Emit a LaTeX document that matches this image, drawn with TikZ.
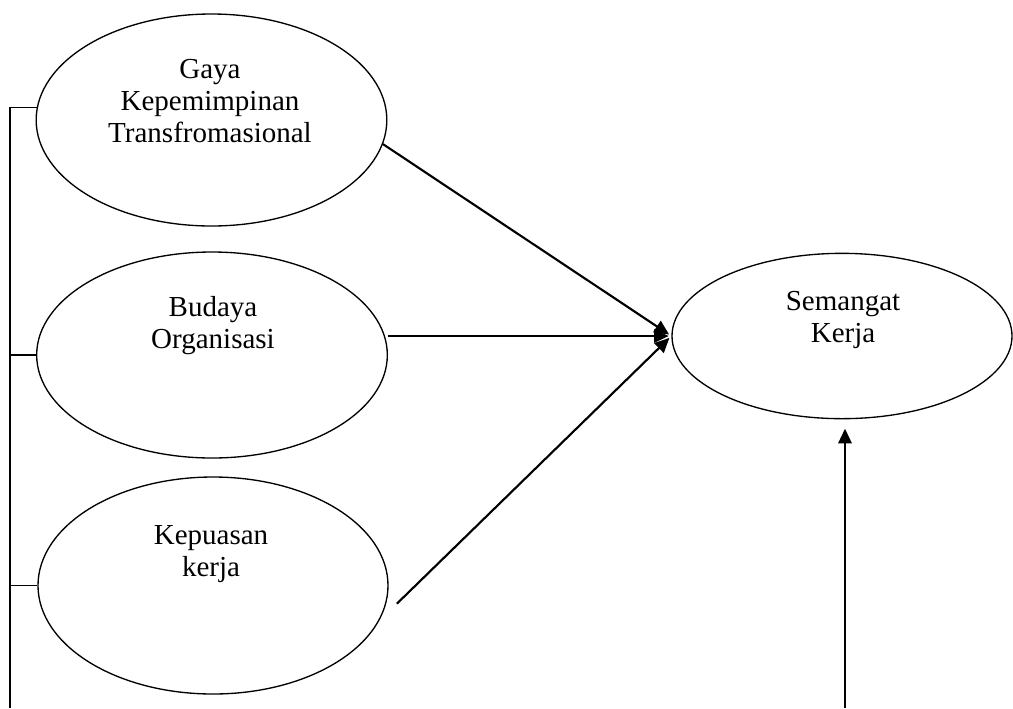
\documentclass[tikz,border=0pt]{standalone}
\usepackage{fontspec}
\setmainfont{Liberation Serif}
\usetikzlibrary{shapes.geometric,arrows.meta}
\begin{document}
\begin{tikzpicture}[x=0.75pt,y=-0.75pt,
    var/.style={draw,ellipse,line width=1pt,inner sep=0pt},
    lbl/.style={anchor=north,inner sep=0pt,align=center,
      font=\fontsize{21.75}{24}\selectfont},
    link/.style={line width=1.6pt,-{Triangle[length=11pt,width=10pt]}}]
  \useasboundingbox (0,0) rectangle (1013,708);
  \draw
    (211.5,120) node[var,minimum width=263pt,minimum height=159pt] (gaya){}
    (212,355) node[var,minimum width=263pt,minimum height=154.5pt] (budaya){}
    (213,585.5) node[var,minimum width=262.5pt,minimum height=162.75pt] (kepuasan){}
    (842,336) node[var,minimum width=255pt,minimum height=124pt] (semangat){};
  \node[lbl] (gayaTxt) at (210,56) {\strut Gaya\\Kepemimpinan\\Transfromasional};
  \node[lbl] (budayaTxt) at (213,294) {\strut Budaya\\Organisasi};
  \node[lbl] (kepuasanTxt) at (211,522) {\strut Kepuasan\\kerja};
  \node[lbl] (semangatTxt) at (843,288) {\strut Semangat\\Kerja};
  \coordinate (rail) at (10,708);
  \coordinate (foot) at (845,708);
  \begin{scope}[line width=1pt]
    \draw (gaya.176) -| (rail);
    \draw (budaya.west) -- (budaya.west -| rail);
    \draw (kepuasan.west) -- (kepuasan.west -| rail);
  \end{scope}
  \begin{scope}[link,shorten >=2pt]
    \draw (gaya.-8) to (semangat.west);
    \draw (budaya.east |- semangat.west) to (semangat.west);
    \draw ([xshift=8pt]kepuasan.-6) to (semangat.west);
  \end{scope}
  \draw[link,shorten >=7pt] (foot) -- (foot |- semangat.south);
\end{tikzpicture}
\end{document}
